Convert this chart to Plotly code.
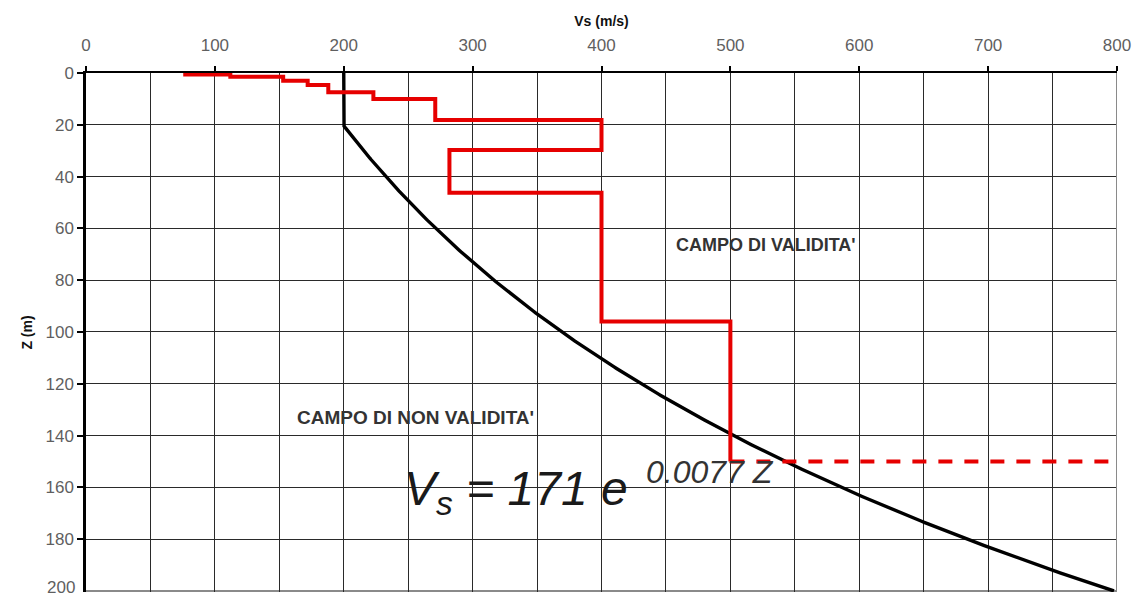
import numpy as np
import plotly.graph_objects as go

# Layered shear-wave velocity profile: Vs (m/s) of each layer and depth of its base (m)
layer_vs = [77, 112, 153, 172, 188, 223, 271, 400, 282, 400, 500]
layer_base = [0.6, 1.4, 3.0, 4.6, 7.4, 10.0, 18.1, 29.7, 46.2, 96.0, 150.0]

# Extension of the last layer (dashed)
ext_depth = 150
ext_vs = [500, 800]

# Validity limit: Vs = 171 e^(0.0077 Z), never below 200 m/s
limit_v0 = 171
limit_k = 0.0077
limit_min = 200
limit_z = np.linspace(0, 200, 401)
limit_vs = np.maximum(limit_min, limit_v0 * np.exp(limit_k * limit_z))

x_ticks = [0, 100, 200, 300, 400, 500, 600, 700, 800]
z_ticks = [0, 20, 40, 60, 80, 100, 120, 140, 160, 180, 200]

# staircase path of the profile
step_x = [layer_vs[0]]
step_z = [0]
for i, v in enumerate(layer_vs):
    step_x.append(v)
    step_z.append(layer_base[i])
    if i + 1 < len(layer_vs):
        step_x.append(layer_vs[i + 1])
        step_z.append(layer_base[i])

RED = "#e60000"

fig = go.Figure()
fig.add_trace(go.Scatter(x=limit_vs, y=limit_z, mode="lines",
                         line=dict(color="black", width=3.4), hoverinfo="skip", cliponaxis=False))
fig.add_trace(go.Scatter(x=step_x, y=step_z, mode="lines",
                         line=dict(color=RED, width=4, shape="linear"), hoverinfo="skip"))
fig.add_trace(go.Scatter(x=ext_vs, y=[ext_depth, ext_depth], mode="lines",
                         line=dict(color=RED, width=4, dash="14px,12px"), hoverinfo="skip"))

label_font = dict(family="Liberation Sans, Arial", size=17, color="#5f5f5f")

fig.update_layout(
    width=1139, height=597,
    margin=dict(l=86, r=22, t=73, b=5),
    paper_bgcolor="white", plot_bgcolor="white",
    showlegend=False,
    xaxis=dict(
        side="top", range=[0, 800], tickvals=x_ticks,
        ticks="outside", ticklen=5, tickwidth=1.5, tickcolor="black",
        tickfont=label_font, ticklabelstandoff=8,
        showgrid=True, gridcolor="#2a2a2a", gridwidth=1.3,
        minor=dict(dtick=50, showgrid=True, gridcolor="#2a2a2a", gridwidth=1.3, ticks=""),
        showline=True, linecolor="black", linewidth=2.2,
        zeroline=False,
        title=dict(text="<b>Vs (m/s)</b>", font=dict(family="Liberation Sans, Arial", size=14, color="#111"), standoff=6),
    ),
    yaxis=dict(
        range=[200.4, 0], tickvals=z_ticks[:-1],
        ticks="outside", ticklen=6, tickwidth=1.5, tickcolor="black",
        tickfont=label_font,
        showgrid=True, gridcolor="#2a2a2a", gridwidth=1.3,
        showline=True, linecolor="black", linewidth=2.5,
        zeroline=False,
        title=dict(text="<b>Z (m)</b>", font=dict(family="Liberation Sans, Arial", size=14, color="#111"), standoff=10),
    ),
)

# bottom depth label sits on the lower frame edge
fig.add_annotation(x=0, y=z_ticks[-1], xref="paper", yref="y", xanchor="right", yanchor="middle",
                   xshift=-9, yshift=3, text=str(z_ticks[-1]), showarrow=False, font=label_font)
fig.add_shape(type="line", xref="x", yref="y", x0=-6, x1=0, y0=z_ticks[-1], y1=z_ticks[-1],
              line=dict(color="black", width=1.5), layer="above")

# right and bottom frame
fig.add_shape(type="line", xref="x", yref="y", x0=800, x1=800, y0=0, y1=200,
              line=dict(color="#8a8a8a", width=2), layer="above")
fig.add_shape(type="line", xref="x", yref="y", x0=0, x1=800, y0=200, y1=200,
              line=dict(color="#8a8a8a", width=2), layer="below")

region_font = dict(family="Liberation Sans, Arial", size=18, color="#333333")
fig.add_annotation(x=528, y=66.3, xref="x", yref="y", text="<b>CAMPO DI VALIDITA'</b>",
                   showarrow=False, font=region_font)
fig.add_annotation(x=256, y=133, xref="x", yref="y", text="<b>CAMPO DI NON VALIDITA'</b>",
                   showarrow=False, font=dict(family="Liberation Sans, Arial", size=19, color="#333333"))

formula_font = dict(family="Liberation Sans, Arial", size=48, color="#1a1a1a")
fig.add_annotation(x=333.6, y=161.8, xref="x", yref="y",
                   text=f"<i>V<sub>s</sub> = {limit_v0} e</i>",
                   showarrow=False, font=formula_font)
fig.add_annotation(x=484, y=154, xref="x", yref="y",
                   text=f"<i>{limit_k} Z</i>",
                   showarrow=False, font=dict(family="Liberation Sans, Arial", size=32, color="#333333"))

fig.write_html("out.html")
